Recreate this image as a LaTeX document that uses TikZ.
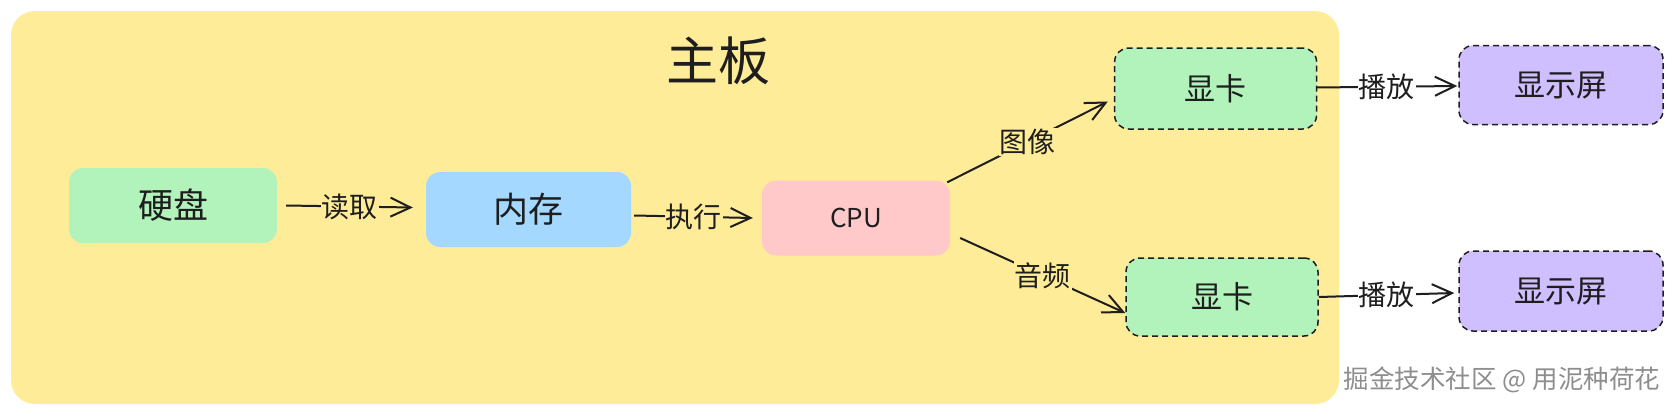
\documentclass[tikz,border=0pt]{standalone}
\usepackage{fontspec}
\setmainfont{Noto Sans CJK SC}
\usetikzlibrary{arrows.meta,calc}
\definecolor{board}{HTML}{FFEC99}
\definecolor{gfill}{HTML}{B2F2BB}
\definecolor{bfill}{HTML}{A5D8FF}
\definecolor{pfill}{HTML}{FFC9C9}
\definecolor{vfill}{HTML}{D0BFFF}
\definecolor{ink}{HTML}{1E1E1E}
\definecolor{wm}{HTML}{8E8E8E}
\begin{document}
\begin{tikzpicture}[x=1pt,y=-1pt,
  box/.style={rounded corners=14pt, inner sep=0pt, text=ink, font=\fontsize{35}{40}\selectfont},
  dbox/.style={box, draw=ink, line width=1.5pt, dash pattern=on 6pt off 4pt, font=\fontsize{31}{36}\selectfont},
  conn/.style={draw=ink, line width=2pt, -{Straight Barb[length=20pt,width=19pt]}},
  lbl/.style={font=\fontsize{28}{32}\selectfont, text=ink, inner sep=1pt, fill=board},
  lblw/.style={lbl, fill=white},
]
\useasboundingbox (0,0) rectangle (1669,413);
\fill[white] (0,0) rectangle (1669,413);
\fill[board, rounded corners=24pt] (11,11) rectangle (1339,404);
\node[text=ink, font=\fontsize{52}{60}\selectfont] (title) at (718,61) {主板};

\node[box, fill=gfill, minimum width=208pt, minimum height=75pt] (hd) at (173,205.5) {硬盘};
\node[box, fill=bfill, minimum width=205pt, minimum height=75pt] (mem) at (528.5,209.5) {内存};
\node[box, fill=pfill, minimum width=188pt, minimum height=75pt, font=\fontsize{26}{30}\selectfont] (cpu) at (856,218) {CPU};
\node[dbox, fill=gfill, minimum width=202pt, minimum height=81pt] (gpu1) at (1215.6,88.5) {显卡};
\node[dbox, fill=gfill, minimum width=192pt, minimum height=78pt] (gpu2) at (1222,297) {显卡};
\node[dbox, fill=vfill, minimum width=204pt, minimum height=79pt] (scr1) at (1561,85) {显示屏};
\node[dbox, fill=vfill, minimum width=204pt, minimum height=80pt] (scr2) at (1561,291) {显示屏};

\draw[conn] ($(hd.east)+(9,0)$) -- ($(mem.west)+(-13,-2)$) node[lbl, midway] {读取};
\draw[conn] ($(mem.east)+(3,6)$) -- ($(cpu.west)+(-9,0)$) node[lbl, midway] {执行};
\draw[conn] ($(cpu.north east)+(-3,2)$) -- ($(gpu1.west)+(-6,13)$) node[lbl, midway] {图像};
\draw[conn] ($(cpu.east)+(10,20)$) -- ($(gpu2.west)+(0,16)$) node[lbl, midway] {音频};
\draw[conn] ($(gpu1.east)+(-1,-1)$) -- ($(scr1.west)+(-1,1)$) node[lblw, midway] {播放};
\draw[conn] (gpu2.east) -- ($(scr2.west)+(-4,2)$) node[lblw, midway] {播放};

\node[text=wm, font=\fontsize{25.5}{30}\selectfont, inner sep=0pt] (mark) at (1502,380) {掘金技术社区 @ 用泥种荷花};
\end{tikzpicture}
\end{document}
